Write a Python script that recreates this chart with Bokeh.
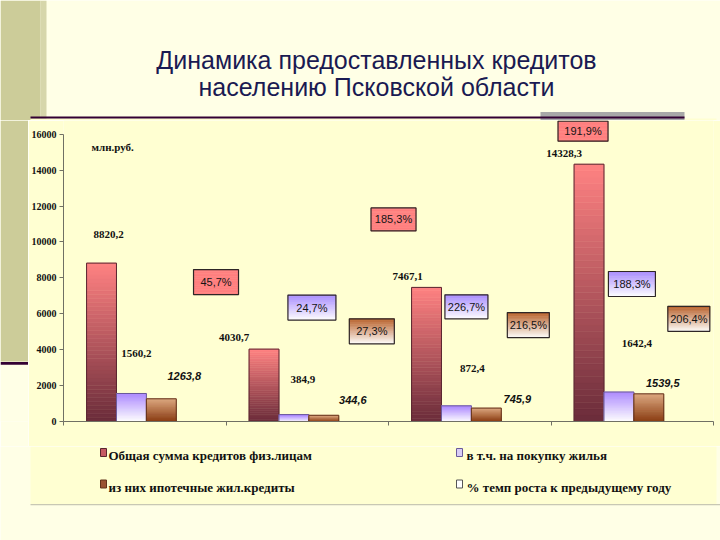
import numpy as np
from bokeh.plotting import figure
from bokeh.layouts import column, row
from bokeh.models import Range1d, FixedTicker, Label
from bokeh.core.properties import value
from bokeh.embed import file_html
from bokeh.resources import INLINE

# ---------------- data ----------------
groups = [0, 1, 2, 3]                       # four periods (no category labels in original)
total_credit = [8820.2, 4030.7, 7467.1, 14328.3]
housing_credit = [1560.2, 384.9, 872.4, 1642.4]
mortgage_credit = [1263.8, 344.6, 745.9, 1539.5]
growth_groups = [1, 2, 3]                   # growth shown for periods 2..4
growth_total = [45.7, 185.3, 191.9]
growth_housing = [24.7, 226.7, 188.3]
growth_mortgage = [27.3, 216.5, 206.4]
y_ticks = [0, 2000, 4000, 6000, 8000, 10000, 12000, 14000, 16000]
series_names = ["Общая сумма кредитов физ.лицам",
                "в т.ч. на покупку жилья",
                "из них ипотечные жил.кредиты",
                "% темп роста к предыдущему году"]
title_lines = ["Динамика предоставленных кредитов", "населению Псковской области"]
unit_label = "млн.руб."

# ---------------- layout constants ----------------
PAGE_W, PAGE_H = 720, 540
TOP_H = 120            # slide header (y 0..120)
STRIP_W = 28           # left stripe column (x 0..28)
BL, BR, BB = 34, 8, 25 # main figure borders
FRAME_W, FRAME_H = 650, 301
MID_H = FRAME_H + BB
BOT_H = PAGE_H - TOP_H - MID_H
Y_MAX = 16000
Y_SPAN_PX = 287.3
Y_END = Y_MAX * FRAME_H / Y_SPAN_PX
PXX = 4.0 / FRAME_W
PXY = Y_END / FRAME_H
BAR_W = 0.184
SHIFT = 0.01

SLIDE_BG = "#ffffe6"
CHART_BG = "#ffffd2"
STRIPE = "#cccc99"
DARK_LINE = "#330033"
TEXT_C = "#111111"


def bar_center(g, k):
    return g + 0.5 + (k - 1.5) * BAR_W + SHIFT


def hex2rgb(h):
    h = h.lstrip("#")
    return np.array([int(h[i:i + 2], 16) for i in (0, 2, 4)], dtype=float)


def lerp(c0, c1, t):
    a, b = hex2rgb(c0), hex2rgb(c1)
    c = a + (b - a) * t
    return "#%02x%02x%02x" % tuple(int(round(v)) for v in c)


def pix_fig(w, h, bg):
    f = figure(width=w, height=h, output_backend="svg", toolbar_location=None,
               x_range=Range1d(0, w), y_range=Range1d(0, h),
               x_axis_type=None, y_axis_type=None, min_border=0,
               background_fill_color=bg, border_fill_color=bg,
               outline_line_color=None)
    f.grid.visible = False
    return f


# ================= header (y = 120 - page_y) =================
top = pix_fig(PAGE_W, TOP_H, SLIDE_BG)
top.quad(left=[0, 40], right=[40, 46], bottom=[0, 0], top=[TOP_H, TOP_H],
         fill_color=[STRIPE, "#d6d6aa"], line_color=None)
top.quad(left=[30], right=[716], bottom=[0], top=[2], fill_color=CHART_BG, line_color=None)
top.quad(left=[540], right=[684], bottom=[-0.5], top=[8.5], fill_color="#a8a8a8", line_color=None)
top.quad(left=[30], right=[684], bottom=[2], top=[4], fill_color=DARK_LINE, line_color=None)
top.text(x=[376, 376], y=[60.7, 33.3], text=title_lines, text_align="center",
         text_baseline="alphabetic", text_font=value("Liberation Sans"),
         text_font_size="25px", text_color="#1a1a52")

# ================= left stripe column (y = 446 - page_y) =================
strip = pix_fig(STRIP_W, MID_H, SLIDE_BG)
strip.quad(left=[0], right=[STRIP_W], bottom=[446 - 381], top=[MID_H], fill_color=STRIPE,
           line_color=None)
strip.quad(left=[0], right=[STRIP_W], bottom=[446 - 384.5], top=[446 - 381.5],
           fill_color=DARK_LINE, line_color=None)

# ================= main chart =================
p = figure(frame_width=FRAME_W, frame_height=FRAME_H, output_backend="svg",
           toolbar_location=None, x_range=Range1d(0, 4), y_range=Range1d(0, Y_END),
           min_border_left=BL, min_border_right=BR, min_border_top=0, min_border_bottom=BB,
           background_fill_color=CHART_BG, border_fill_color=CHART_BG,
           outline_line_color=None)
p.grid.visible = False
p.yaxis.ticker = FixedTicker(ticks=y_ticks)
p.yaxis.bounds = (0, Y_MAX)
p.xaxis.ticker = FixedTicker(ticks=[0, 1, 2, 3, 4])
p.xaxis.major_label_overrides = {0: "", 1: "", 2: "", 3: "", 4: ""}
p.xaxis.major_label_text_font_size = "1px"
p.xaxis.major_label_standoff = 0
for ax in (p.xaxis, p.yaxis):
    ax.axis_line_color = "#707064"
    ax.major_tick_line_color = "#707064"
    ax.major_tick_out = 4
    ax.major_tick_in = 0
    ax.minor_tick_line_color = None
p.yaxis.major_label_text_font = "Liberation Serif"
p.yaxis.major_label_text_font_style = "bold"
p.yaxis.major_label_text_font_size = "10px"
p.yaxis.major_label_text_color = TEXT_C
p.yaxis.major_label_standoff = 3

SERIES_STYLE = [
    dict(bottom="#6a2c3a", top="#ff8282", line="#5a2630"),   # total
    dict(bottom="#ffffff", top="#ad8aff", line="#6a5a9a"),   # housing
    dict(bottom="#87380f", top="#dba67e", line="#63321a"),   # mortgage
]
BOX_STYLE = [
    dict(bottom="#ff8080", top="#ff8080"),
    dict(bottom="#ffffff", top="#a98cff"),
    dict(bottom="#ffffff", top="#b9622c"),
]

series_values = [total_credit, housing_credit, mortgage_credit]
N_SLICE = 40
for k, vals in enumerate(series_values):
    st = SERIES_STYLE[k]
    L, R, B, T, C = [], [], [], [], []
    cols = [lerp(st["bottom"], st["top"], (i + 0.5) / N_SLICE) for i in range(N_SLICE)]
    for g, v in zip(groups, vals):
        xc = bar_center(g, k)
        ys = np.linspace(0, v, N_SLICE + 1)
        L += [xc - BAR_W / 2] * N_SLICE
        R += [xc + BAR_W / 2] * N_SLICE
        B += list(ys[:-1])
        T += list(ys[1:])
        C += cols
    p.quad(left=L, right=R, bottom=B, top=T, fill_color=C, line_color=C, line_width=0.6)
    xcs = [bar_center(g, k) for g in groups]
    p.quad(left=[x - BAR_W / 2 for x in xcs], right=[x + BAR_W / 2 for x in xcs],
           bottom=[0] * len(vals), top=vals, fill_color=None,
           line_color=st["line"], line_width=1)

# value labels (offsets in px from bar top centre)
LABEL_OFFSETS = [
    [(7, -29), (-30, -12), (-19, -11), (-25, -11)],
    [(5, -40), (9, -35), (16, -37), (18, -49)],
    [(23, -23), (29, -15), (31, -9), (14, -11)],
]
fmt = lambda v: ("%.1f" % v).replace(".", ",")
for k, vals in enumerate(series_values):
    xs = [bar_center(g, k) for g in groups]
    dx = [o[0] for o in LABEL_OFFSETS[k]]
    dy = [o[1] for o in LABEL_OFFSETS[k]]
    if k < 2:
        font, style = "Liberation Serif", "bold"
    else:
        font, style = "Liberation Sans", "bold italic"
    p.text(x=xs, y=vals, text=[fmt(v) for v in vals], x_offset=dx, y_offset=dy,
           text_align="center", text_baseline="middle", text_font=value(font),
           text_font_style=style, text_font_size="11px", text_color=TEXT_C)

# growth boxes (offset of box centre from bar top centre in px, box size in px)
BOX_OFFSETS = [
    [(-48, -67), (-33, -68), (-6, -33)],
    [(18, -107), (10, -99), (13, -108)],
    [(48, -84), (42, -83), (40, -75)],
]
BOX_SIZES = [
    [(45, 25), (45, 23), (50, 20)],
    [(48, 25), (43, 24), (47, 25)],
    [(45, 25), (42, 25), (42, 25)],
]
growth_values = [growth_total, growth_housing, growth_mortgage]
N_BOX = 14
for k, gv in enumerate(growth_values):
    st = BOX_STYLE[k]
    cols = [lerp(st["bottom"], st["top"], (i + 0.5) / N_BOX) for i in range(N_BOX)]
    L, R, B, T, C = [], [], [], [], []
    OL, OR, OB, OT, TX, TY, TT = [], [], [], [], [], [], []
    for j, (g, v) in enumerate(zip(growth_groups, gv)):
        base = series_values[k][g]
        cx = bar_center(g, k) + BOX_OFFSETS[k][j][0] * PXX
        cy = base - BOX_OFFSETS[k][j][1] * PXY
        w = BOX_SIZES[k][j][0] * PXX
        h = BOX_SIZES[k][j][1] * PXY
        ys = np.linspace(cy - h / 2, cy + h / 2, N_BOX + 1)
        L += [cx - w / 2] * N_BOX
        R += [cx + w / 2] * N_BOX
        B += list(ys[:-1])
        T += list(ys[1:])
        C += cols
        OL.append(cx - w / 2); OR.append(cx + w / 2)
        OB.append(cy - h / 2); OT.append(cy + h / 2)
        TX.append(cx); TY.append(cy); TT.append(fmt(v) + "%")
    p.quad(left=L, right=R, bottom=B, top=T, fill_color=C, line_color=C, line_width=0.6)
    p.quad(left=OL, right=OR, bottom=OB, top=OT, fill_color=None,
           line_color="#2e2626", line_width=1.2)
    p.text(x=TX, y=TY, text=TT, text_align="center", text_baseline="middle",
           text_font=value("Liberation Sans"), text_font_size="11px",
           text_color="#141414")

p.add_layout(Label(x=28, y=FRAME_H - 26, x_units="screen", y_units="screen",
                   text=unit_label, text_align="left", text_baseline="middle",
                   text_font="Liberation Serif", text_font_style="bold",
                   text_font_size="11px", text_color=TEXT_C))

# ================= legend area (y = 540 - page_y) =================
bot = pix_fig(PAGE_W, BOT_H, SLIDE_BG)
bot.quad(left=[30], right=[716], bottom=[36.5], top=[BOT_H], fill_color=CHART_BG, line_color=None)
bot.quad(left=[30], right=[720], bottom=[35.3], top=[36.5], fill_color="#c8c8b4", line_color=None)
LEG_FILL = ["#c65a64", "#d9cdf6", "#9a5232", "#ffffff"]
LEG_LINE = ["#5a2630", "#6a5a9a", "#63321a", "#555555"]
LEG_X = [100, 456, 100, 456]        # marker left edges
LEG_Y = [88, 88, 56.5, 56.5]        # marker centres
TXT_X = [108, 466, 108, 466]
bot.quad(left=LEG_X, right=[x + 6 for x in LEG_X], bottom=[y - 4 for y in LEG_Y],
         top=[y + 4 for y in LEG_Y], fill_color=LEG_FILL, line_color=LEG_LINE, line_width=1)
bot.text(x=TXT_X, y=[y - 3 for y in LEG_Y],
         text=[series_names[0], series_names[1], series_names[2], series_names[3]],
         text_align="left", text_baseline="middle", text_font=value("Liberation Serif"),
         text_font_style="bold", text_font_size="13px", text_color=TEXT_C)

layout = column(top, row(strip, p, spacing=0), bot, spacing=0)
open("out.html", "w").write(file_html(layout, INLINE))
